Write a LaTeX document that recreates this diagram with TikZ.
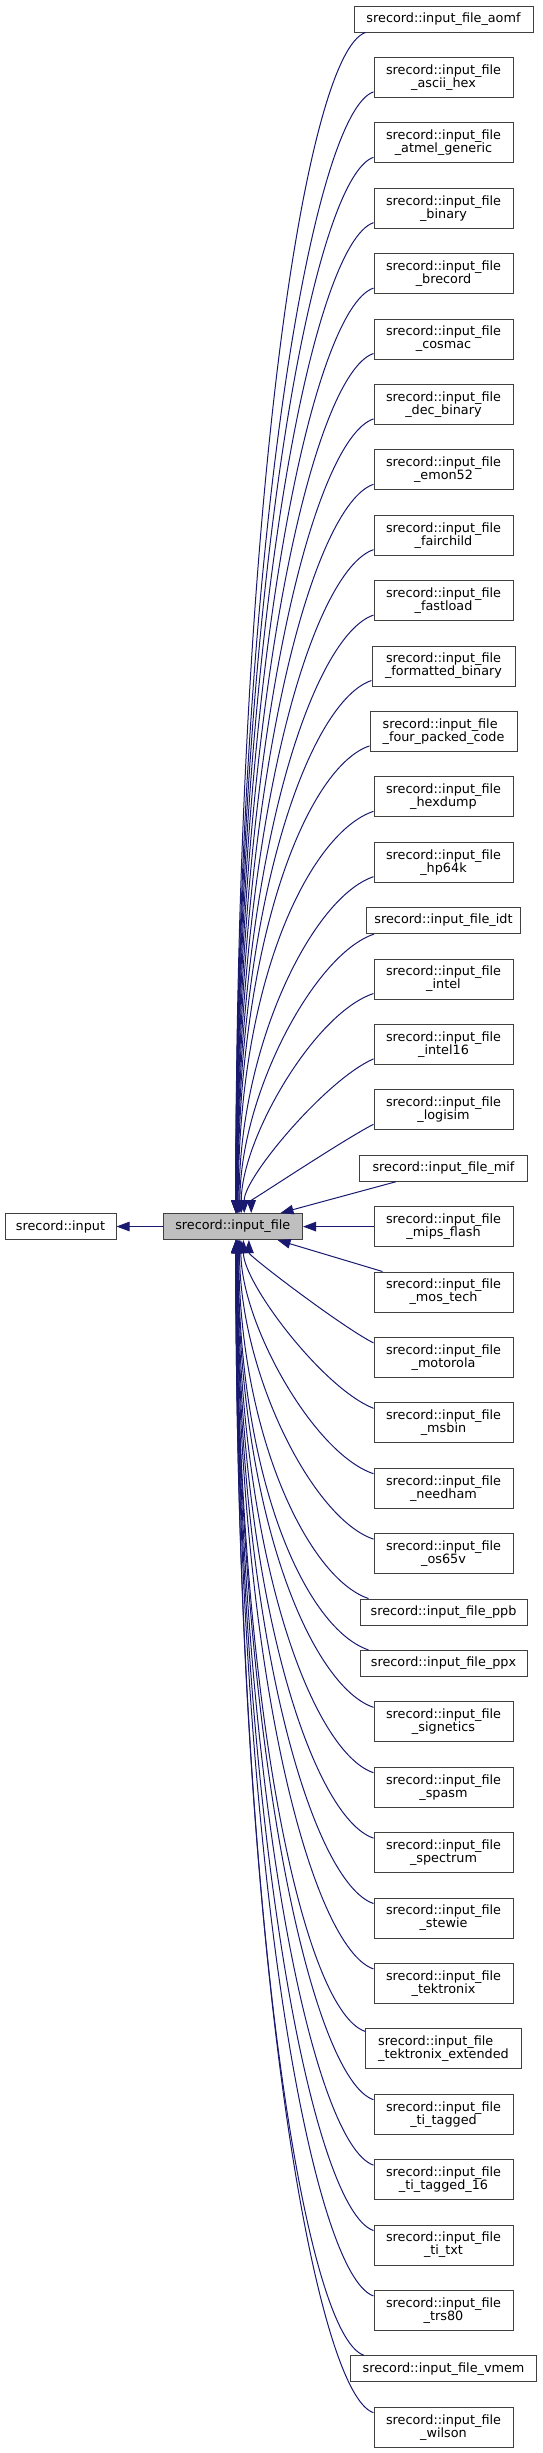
\documentclass[tikz,border=0pt]{standalone}
\usepackage{fontspec}
\newfontfamily\dejavu{DejaVu Sans}
\usetikzlibrary{arrows.meta,calc}
\definecolor{edgeblue}{HTML}{191970}
\definecolor{boxborder}{HTML}{404040}
\definecolor{focusfill}{HTML}{BFBFBF}
\begin{document}
\begin{tikzpicture}[x=1pt,y=-1pt,
  box/.style={draw=boxborder, line width=1pt, fill=white, inner sep=0pt,
    font=\dejavu\fontsize{12.8}{13}\selectfont, align=center, text=black},
  one/.style={box, minimum height=26},
  two/.style={box, minimum height=40, minimum width=139},
  edge/.style={draw=edgeblue, line width=1pt, -{Triangle[length=13pt,width=9.5pt]}}]
\path[use as bounding box] (0,0) rectangle (543,2453);

% parents
\node[one, minimum width=111] (input) at (60.5,1226.5) {srecord::input};
\node[one, minimum width=139.5, fill=focusfill] (file) at (232.75,1226.5) {srecord::input\_file};

% children
\node[one, minimum width=179] (aomf) at (443.5,19) {srecord::input\_file\_aomf};
\node[two] (asciihex) at (443.5,77.4) {srecord::input\_file\\\_ascii\_hex};
\node[two] (atmel) at (443.5,142.8) {srecord::input\_file\\\_atmel\_generic};
\node[two] (binary) at (443.5,208.2) {srecord::input\_file\\\_binary};
\node[two] (brecord) at (443.5,273.6) {srecord::input\_file\\\_brecord};
\node[two] (cosmac) at (443.5,339.0) {srecord::input\_file\\\_cosmac};
\node[two] (decbinary) at (443.5,404.4) {srecord::input\_file\\\_dec\_binary};
\node[two] (emon) at (443.5,469.8) {srecord::input\_file\\\_emon52};
\node[two] (fairchild) at (443.5,535.2) {srecord::input\_file\\\_fairchild};
\node[two] (fastload) at (443.5,600.6) {srecord::input\_file\\\_fastload};
\node[two, minimum width=143] (formatted) at (443.5,666.0) {srecord::input\_file\\\_formatted\_binary};
\node[two, minimum width=147, align=left] (fourpacked) at (443.5,731.4) {srecord::input\_file\\\_four\_packed\_code};
\node[two] (hexdump) at (443.5,796.8) {srecord::input\_file\\\_hexdump};
\node[two] (hp) at (443.5,862.2) {srecord::input\_file\\\_hp64k};
\node[one, minimum width=154] (idt) at (443.5,920.6) {srecord::input\_file\_idt};
\node[two] (intel) at (443.5,979.0) {srecord::input\_file\\\_intel};
\node[two] (intelsixteen) at (443.5,1044.4) {srecord::input\_file\\\_intel16};
\node[two] (logisim) at (443.5,1109.8) {srecord::input\_file\\\_logisim};
\node[one, minimum width=168] (mif) at (443.5,1168.2) {srecord::input\_file\_mif};
\node[two] (mips) at (443.5,1226.6) {srecord::input\_file\\\_mips\_flash};
\node[two] (mostech) at (443.5,1292.0) {srecord::input\_file\\\_mos\_tech};
\node[two] (motorola) at (443.5,1357.4) {srecord::input\_file\\\_motorola};
\node[two] (msbin) at (443.5,1422.8) {srecord::input\_file\\\_msbin};
\node[two] (needham) at (443.5,1488.2) {srecord::input\_file\\\_needham};
\node[two] (osv) at (443.5,1553.6) {srecord::input\_file\\\_os65v};
\node[one, minimum width=167] (ppb) at (443.5,1612.0) {srecord::input\_file\_ppb};
\node[one, minimum width=167] (ppx) at (443.5,1663.4) {srecord::input\_file\_ppx};
\node[two] (signetics) at (443.5,1721.8) {srecord::input\_file\\\_signetics};
\node[two] (spasm) at (443.5,1787.2) {srecord::input\_file\\\_spasm};
\node[two] (spectrum) at (443.5,1852.6) {srecord::input\_file\\\_spectrum};
\node[two] (stewie) at (443.5,1918.0) {srecord::input\_file\\\_stewie};
\node[two] (tek) at (443.5,1983.4) {srecord::input\_file\\\_tektronix};
\node[two, minimum width=156, align=left] (tekext) at (443.5,2048.8) {srecord::input\_file\\\_tektronix\_extended};
\node[two] (titagged) at (443.5,2114.2) {srecord::input\_file\\\_ti\_tagged};
\node[two] (titaggedsixteen) at (443.5,2179.6) {srecord::input\_file\\\_ti\_tagged\_16};
\node[two] (titxt) at (443.5,2245.0) {srecord::input\_file\\\_ti\_txt};
\node[two] (trs) at (443.5,2310.4) {srecord::input\_file\\\_trs80};
\node[one, minimum width=186] (vmem) at (443.5,2368.8) {srecord::input\_file\_vmem};
\node[two] (wilson) at (443.5,2427.2) {srecord::input\_file\\\_wilson};

% edges
\draw[edge] (file.west) -- (input.east);

\draw[edge] ($(aomf.south west)+(12,0)$) .. controls +(-60,20) and +(0,-709) .. ($(file.north west)+(73.3,0)$);
\draw[edge] ($(asciihex.south west)+(0,-6)$) .. controls +(-60,20) and +(0,-673) .. ($(file.north west)+(73.3,0)$);
\draw[edge] ($(atmel.south west)+(0,-6)$) .. controls +(-60,20) and +(0,-634) .. ($(file.north west)+(73.4,0)$);
\draw[edge] ($(binary.south west)+(0,-6)$) .. controls +(-60,20) and +(0,-595) .. ($(file.north west)+(73.5,0)$);
\draw[edge] ($(brecord.south west)+(0,-6)$) .. controls +(-60,20) and +(0,-556) .. ($(file.north west)+(73.6,0)$);
\draw[edge] ($(cosmac.south west)+(0,-6)$) .. controls +(-60,20) and +(0,-516) .. ($(file.north west)+(73.7,0)$);
\draw[edge] ($(decbinary.south west)+(0,-6)$) .. controls +(-60,20) and +(0,-477) .. ($(file.north west)+(73.9,0)$);
\draw[edge] ($(emon.south west)+(0,-6)$) .. controls +(-60,20) and +(0,-438) .. ($(file.north west)+(74.1,0)$);
\draw[edge] ($(fairchild.south west)+(0,-6)$) .. controls +(-60,20) and +(0,-398) .. ($(file.north west)+(74.3,0)$);
\draw[edge] ($(fastload.south west)+(0,-6)$) .. controls +(-60,20) and +(0,-359) .. ($(file.north west)+(74.5,0)$);
\draw[edge] ($(formatted.south west)+(0,-6)$) .. controls +(-60,20) and +(0,-320) .. ($(file.north west)+(74.8,0)$);
\draw[edge] ($(fourpacked.south west)+(0,-6)$) .. controls +(-60,20) and +(0,-281) .. ($(file.north west)+(75.2,0)$);
\draw[edge] ($(hexdump.south west)+(0,-6)$) .. controls +(-60,20) and +(0,-242) .. ($(file.north west)+(75.7,0)$);
\draw[edge] ($(hp.south west)+(0,-6)$) .. controls +(-60,20) and +(0,-170) .. ($(file.north west)+(76.5,0)$);
\draw[edge] ($(idt.south west)+(8,0)$) .. controls +(-60,20) and +(0,-118) .. ($(file.north west)+(77.4,0)$);
\draw[edge] ($(intel.south west)+(0,-6)$) .. controls +(-60,20) and +(0,-73) .. ($(file.north west)+(78.8,0)$);
\draw[edge] ($(intelsixteen.south west)+(0,-6)$) .. controls +(-46.5,20) and +(0,-36) .. ($(file.north west)+(81.7,0)$);
\draw[edge] ($(logisim.south west)+(0,-6)$) .. controls +(-27,13.5) and +(0,-12) .. ($(file.north west)+(88.7,0)$);
\draw[edge] ($(mif.south west)+(37,0)$) -- ($(file.north west)+(118,0)$);
\draw[edge] (mips.west) -- (mips.west -| file.east);
\draw[edge] ($(mostech.north west)+(9,0)$) -- ($(file.south west)+(115,0)$);
\draw[edge] ($(motorola.north west)+(0,6)$) .. controls +(-31,-15.6) and +(0,16) .. ($(file.south west)+(86.4,0)$);
\draw[edge] ($(msbin.north west)+(0,6)$) .. controls +(-50.7,-20) and +(0,43) .. ($(file.south west)+(80.9,0)$);
\draw[edge] ($(needham.north west)+(0,6)$) .. controls +(-60,-20) and +(0,83) .. ($(file.south west)+(78.4,0)$);
\draw[edge] ($(osv.north west)+(0,6)$) .. controls +(-60,-20) and +(0,135) .. ($(file.south west)+(77,0)$);
\draw[edge] ($(ppb.north west)+(9,0)$) .. controls +(-60,-20) and +(0,194) .. ($(file.south west)+(76.2,0)$);
\draw[edge] ($(ppx.north west)+(9,0)$) .. controls +(-60,-20) and +(0,247) .. ($(file.south west)+(75.6,0)$);
\draw[edge] ($(signetics.north west)+(0,6)$) .. controls +(-60,-20) and +(0,281) .. ($(file.south west)+(75.2,0)$);
\draw[edge] ($(spasm.north west)+(0,6)$) .. controls +(-60,-20) and +(0,320) .. ($(file.south west)+(74.8,0)$);
\draw[edge] ($(spectrum.north west)+(0,6)$) .. controls +(-60,-20) and +(0,359) .. ($(file.south west)+(74.5,0)$);
\draw[edge] ($(stewie.north west)+(0,6)$) .. controls +(-60,-20) and +(0,398) .. ($(file.south west)+(74.3,0)$);
\draw[edge] ($(tek.north west)+(0,6)$) .. controls +(-60,-20) and +(0,438) .. ($(file.south west)+(74.1,0)$);
\draw[edge] ($(tekext.north west)+(0,3)$) .. controls +(-60,-20) and +(0,475) .. ($(file.south west)+(73.9,0)$);
\draw[edge] ($(titagged.north west)+(0,6)$) .. controls +(-60,-20) and +(0,517) .. ($(file.south west)+(73.7,0)$);
\draw[edge] ($(titaggedsixteen.north west)+(0,6)$) .. controls +(-60,-20) and +(0,556) .. ($(file.south west)+(73.6,0)$);
\draw[edge] ($(titxt.north west)+(0,6)$) .. controls +(-60,-20) and +(0,595) .. ($(file.south west)+(73.5,0)$);
\draw[edge] ($(trs.north west)+(0,6)$) .. controls +(-60,-20) and +(0,634) .. ($(file.south west)+(73.4,0)$);
\draw[edge] ($(vmem.north west)+(14,0)$) .. controls +(-60,-20) and +(0,670) .. ($(file.south west)+(73.3,0)$);
\draw[edge] ($(wilson.north west)+(0,6)$) .. controls +(-60,-20) and +(0,704) .. ($(file.south west)+(73.3,0)$);
\end{tikzpicture}
\end{document}
